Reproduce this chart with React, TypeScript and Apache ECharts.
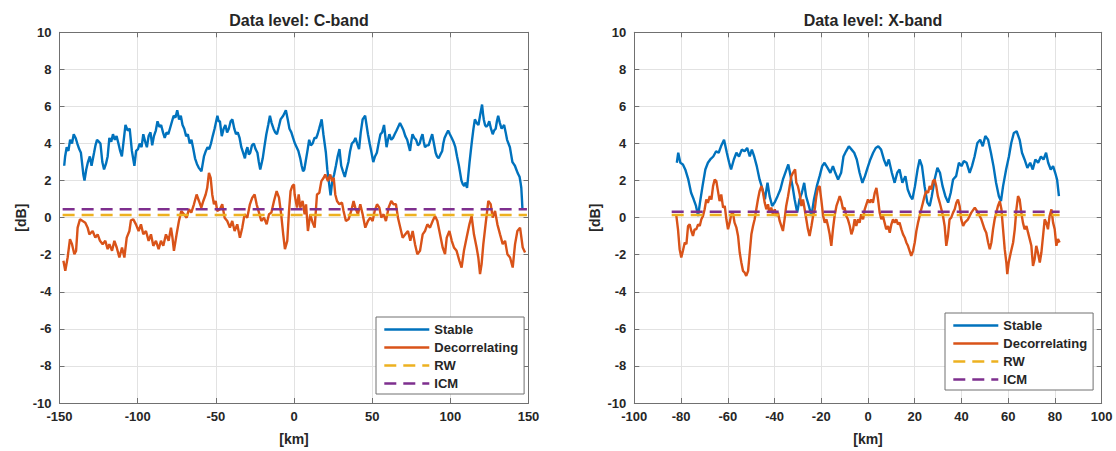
import React, { useEffect, useRef } from "react";
import * as echarts from "echarts";

// ---------- DATA ----------
const seriesNames = ["Stable", "Decorrelating", "RW", "ICM"];
const titles = ["Data level: C-band", "Data level: X-band"];
const xAxisName = "[km]";
const yAxisName = "[dB]";

// C-band: [km, dB]
const cStable: [number, number][] = [
  [-147.0,2.8],[-146.4,3.3],[-145.4,3.8],[-144.3,3.6],[-143.2,4.2],[-142.0,4.0],[-140.9,4.5],[-139.7,4.3],[-138.6,4.0],[-137.4,3.7],[-136.3,3.5],[-135.5,2.9],[-134.7,2.3],[-134.0,2.0],[-132.9,2.6],[-131.8,3.0],[-130.6,3.3],[-129.5,2.8],[-127.9,3.5],[-127.0,3.9],[-126.0,4.2],[-124.9,4.1],[-123.8,4.0],[-122.6,3.0],[-121.5,2.6],[-120.3,2.9],[-119.2,3.3],[-118.1,4.3],[-116.9,4.1],[-115.8,4.5],[-114.6,4.2],[-113.5,4.4],[-112.3,4.0],[-111.2,3.6],[-110.1,3.3],[-108.9,4.2],[-107.8,5.0],[-106.4,4.7],[-105.1,4.8],[-103.7,3.6],[-102.1,2.8],[-101.0,3.6],[-99.8,3.7],[-98.7,4.0],[-97.5,3.8],[-96.4,4.5],[-95.2,4.1],[-94.1,3.8],[-93.0,4.4],[-91.8,4.6],[-90.7,3.9],[-89.6,4.4],[-88.4,4.7],[-87.3,5.2],[-86.1,4.9],[-85.0,5.0],[-83.8,4.6],[-82.7,4.3],[-81.5,4.6],[-80.4,4.5],[-78.7,5.0],[-77.0,5.5],[-75.8,5.4],[-74.7,5.8],[-73.5,5.3],[-72.4,5.5],[-71.3,5.0],[-70.2,4.8],[-69.0,4.4],[-67.9,4.5],[-66.7,4.0],[-65.6,4.2],[-64.4,3.7],[-63.3,3.2],[-62.1,2.9],[-61.0,2.7],[-59.2,2.5],[-58.4,2.9],[-57.6,3.3],[-56.4,3.6],[-55.3,3.8],[-54.2,3.7],[-53.1,4.0],[-52.0,4.4],[-50.8,4.8],[-49.0,5.5],[-48.2,5.2],[-47.4,5.2],[-46.2,4.4],[-45.0,4.8],[-43.9,5.0],[-42.8,4.6],[-41.7,4.8],[-40.5,5.2],[-39.4,5.3],[-38.2,4.8],[-37.1,4.5],[-36.0,4.6],[-34.8,4.3],[-33.7,3.8],[-32.5,3.5],[-31.4,3.2],[-30.6,3.6],[-29.8,3.8],[-28.9,3.4],[-28.0,3.5],[-26.9,3.9],[-25.7,4.0],[-24.6,3.7],[-23.4,3.5],[-22.5,3.0],[-21.6,2.6],[-20.8,2.9],[-20.0,3.2],[-18.8,3.9],[-17.7,4.5],[-16.5,5.0],[-15.4,5.5],[-14.3,5.1],[-13.1,4.8],[-12.0,4.6],[-10.9,4.5],[-9.7,4.9],[-8.6,5.3],[-6.9,5.5],[-5.2,5.8],[-4.0,5.3],[-2.9,4.8],[-1.7,4.6],[-0.6,4.3],[0.6,4.0],[1.7,3.8],[2.8,3.6],[4.0,3.2],[4.9,2.8],[5.8,2.5],[6.6,2.6],[7.4,3.0],[8.6,3.6],[9.7,4.2],[10.8,3.9],[11.9,4.0],[13.1,4.3],[14.2,4.3],[15.1,4.5],[16.1,4.8],[17.7,5.3],[18.8,4.5],[19.6,4.0],[20.4,3.5],[21.3,2.6],[22.2,2.0],[23.4,1.2],[24.5,2.0],[25.6,2.3],[26.8,2.8],[27.9,3.3],[29.1,3.7],[30.2,2.8],[31.3,2.5],[32.5,2.2],[33.6,2.6],[34.8,3.0],[35.9,3.6],[37.0,4.0],[38.2,4.1],[39.3,4.3],[40.4,4.0],[41.6,3.7],[42.7,4.6],[43.9,5.3],[45.5,5.5],[46.4,5.0],[47.3,4.5],[48.4,4.0],[49.6,3.5],[50.7,3.0],[51.8,3.3],[53.0,3.5],[54.1,4.0],[55.3,4.5],[56.4,4.6],[57.6,5.0],[58.4,4.4],[59.2,3.8],[60.1,4.2],[61.0,4.5],[62.2,4.2],[63.3,4.3],[64.4,4.5],[65.6,4.7],[66.7,4.9],[67.8,5.1],[69.0,4.9],[70.1,4.7],[71.2,4.4],[72.4,4.2],[73.3,3.9],[74.2,3.6],[75.0,4.1],[75.8,4.5],[77.0,4.3],[78.1,4.2],[79.3,3.9],[80.4,4.0],[81.3,4.3],[82.2,4.5],[83.0,4.1],[83.8,3.8],[85.0,3.9],[86.1,3.9],[87.2,4.2],[88.4,4.5],[89.5,4.0],[90.6,3.5],[91.5,3.3],[92.5,3.2],[93.6,3.4],[94.8,3.6],[95.5,4.0],[96.3,4.3],[97.4,4.5],[98.6,4.7],[99.7,4.5],[100.9,4.3],[102.0,4.1],[103.2,3.8],[104.3,3.3],[105.5,2.8],[106.3,2.4],[107.1,2.0],[108.0,1.8],[108.9,1.7],[109.8,1.9],[110.7,1.6],[111.5,2.3],[112.3,3.0],[113.1,3.6],[113.9,4.2],[114.8,4.8],[115.7,5.3],[116.9,5.1],[118.0,5.0],[119.2,5.6],[120.3,6.1],[120.9,5.6],[121.4,5.3],[122.2,5.0],[123.0,4.9],[124.0,5.0],[124.9,5.2],[126.0,4.8],[127.1,4.5],[128.0,4.7],[129.0,4.8],[129.8,5.2],[130.6,5.5],[131.7,5.1],[132.8,4.8],[133.6,4.9],[134.4,5.0],[135.4,4.6],[136.3,4.2],[137.2,4.0],[138.1,3.8],[138.9,3.4],[139.7,3.0],[140.5,2.9],[141.3,2.8],[142.2,2.6],[143.1,2.4],[143.7,2.3],[144.3,2.2],[144.9,1.9],[145.4,1.6],[145.8,1.0],[146.1,0.5]
];
const cDecor: [number, number][] = [
  [-147.5,-2.33],[-146.3,-2.87],[-144.8,-2.15],[-143.3,-1.16],[-142.0,-1.43],[-140.5,-1.97],[-139.4,-1.79],[-138.4,-0.54],[-136.9,-0.09],[-135.2,-0.18],[-133.5,-0.27],[-132.0,-0.54],[-130.9,-0.90],[-128.8,-0.72],[-127.1,-1.08],[-125.6,-0.90],[-124.1,-1.25],[-122.4,-1.43],[-120.7,-1.25],[-119.2,-1.70],[-118.1,-1.43],[-116.4,-1.79],[-114.9,-1.25],[-113.4,-1.61],[-111.7,-2.15],[-110.0,-1.61],[-108.5,-2.15],[-107.0,-1.08],[-105.3,-0.72],[-104.3,-0.14],[-102.8,-0.09],[-101.1,-0.36],[-99.4,-0.72],[-97.9,-0.36],[-96.4,-0.90],[-94.7,-0.72],[-93.0,-1.25],[-91.5,-0.90],[-90.0,-1.52],[-88.3,-1.25],[-86.6,-1.70],[-85.1,-1.25],[-83.6,-1.52],[-81.9,-0.90],[-80.2,-1.25],[-78.7,-0.54],[-77.7,-1.1],[-76.8,-1.79],[-75.1,-0.90],[-73.6,-0.18],[-72.1,0.36],[-70.4,0.18],[-68.7,0],[-67.2,0.45],[-65.7,0.27],[-64.0,0.72],[-62.3,1.25],[-60.8,0.90],[-59.3,0.54],[-58.0,0.90],[-56.5,1.25],[-55.5,1.61],[-54.4,2.42],[-53.3,2.15],[-52.3,1.25],[-51.2,0.72],[-50.1,0.90],[-49.1,0.36],[-47.4,0.45],[-45.9,0.72],[-44.4,0],[-42.7,-0.18],[-41.0,-0.54],[-39.5,-0.18],[-38.0,-0.72],[-36.3,-0.36],[-34.6,-1.08],[-33.1,-0.54],[-31.6,0.18],[-29.9,0],[-28.2,0.72],[-26.7,1.08],[-25.2,1.25],[-23.9,0.72],[-22.4,0.27],[-20.9,-0.18],[-19.2,0],[-17.5,-0.36],[-16.0,0.18],[-14.5,0.27],[-12.8,0.90],[-11.1,1.43],[-9.6,1.08],[-8.2,0.18],[-6.9,-0.90],[-5.8,-1.70],[-4.3,-1.25],[-3.2,0.36],[-2.2,1.43],[-1.1,1.70],[0.0,1.79],[0.4,1.25],[1.9,0.54],[3.0,1.25],[4.0,0.54],[5.5,0.90],[6.8,0.18],[7.7,0.72],[8.9,-0.72],[10.4,0.18],[11.9,-0.27],[13.2,-0.54],[14.7,1.25],[16.2,1.34],[17.5,1.97],[19.0,2.15],[20.0,2.33],[21.7,1.97],[23.2,2.33],[24.3,1.97],[25.4,2.15],[26.4,1.25],[27.5,0.90],[29.0,0.72],[30.7,0.81],[31.7,0.36],[33.2,-0.18],[34.9,-0.09],[36.6,0.36],[38.1,0.90],[39.2,0.54],[40.9,0.18],[42.4,0.72],[43.9,0.18],[45.6,-0.54],[47.3,-0.18],[48.8,0],[50.3,-0.18],[51.6,0.36],[53.1,0.72],[54.6,0.54],[55.8,0],[57.3,0.18],[58.8,-0.18],[60.5,0.54],[62.2,0.90],[63.7,0.72],[65.2,0.72],[66.5,0],[68.0,-0.54],[69.5,-1.08],[71.2,-0.90],[72.9,-0.72],[74.4,-1.25],[75.9,-0.72],[77.4,-1.43],[78.9,-1.97],[80.6,-1.79],[82.3,-0.90],[83.8,-0.72],[85.3,-0.36],[87.0,-0.54],[88.7,-0.18],[90.2,0.09],[91.7,-0.18],[93.4,-0.90],[95.1,-1.61],[96.6,-1.97],[97.7,-1.08],[99.4,-0.72],[100.9,-1.25],[102.3,-1.61],[104.0,-1.79],[105.8,-2.33],[107.2,-2.69],[108.7,-1.79],[110.4,-1.08],[112.2,-0.36],[113.6,0.09],[115.1,-0.90],[116.8,-1.61],[117.9,-2.15],[119.0,-3.05],[120.0,-2.51],[121.1,-1.43],[122.8,-0.18],[124.3,0.90],[125.8,0.72],[127.1,0],[128.6,0.36],[130.1,-0.36],[131.8,-0.90],[133.5,-1.43],[135.0,-1.25],[136.5,-1.97],[138.2,-2.15],[139.9,-2.69],[141.4,-1.43],[142.9,-0.72],[144.6,-0.54],[146.3,-1.61],[147.8,-1.88]
];
const cRW = 0.14;
const cICM = 0.45;
const cRefSpan = [-148, 149];

// X-band: [km, dB]
const xStable: [number, number][] = [
  [-81.8,2.96],[-81.2,3.5],[-80.3,2.96],[-79.2,2.87],[-78.2,2.6],[-76.9,2.06],[-75.7,1.34],[-74.6,0.99],[-73.6,0.63],[-72.7,0.09],[-71.9,0.81],[-70.8,1.70],[-69.6,2.6],[-68.5,2.96],[-67.5,3.14],[-66.2,3.3],[-65.0,3.58],[-63.9,3.5],[-62.9,3.85],[-61.6,4.2],[-60.4,3.5],[-59.4,2.96],[-58.6,2.6],[-57.4,3.14],[-56.3,3.5],[-55.2,3.3],[-54.0,3.67],[-52.8,3.58],[-51.7,3.76],[-50.6,3.3],[-49.7,3.67],[-48.7,3.3],[-47.6,2.78],[-46.4,2.06],[-45.1,1.52],[-44.1,0.99],[-43.0,1.88],[-42.1,1.16],[-41.0,0.63],[-40.0,0.81],[-38.7,1.16],[-37.5,1.52],[-36.4,2.06],[-35.4,2.42],[-34.1,2.87],[-33.4,2.42],[-32.3,1.70],[-31.4,0.99],[-30.3,0.27],[-29.3,0.99],[-28.3,1.34],[-27.3,1.88],[-26.5,1.16],[-25.3,0.63],[-24.2,0.09],[-23.1,0.99],[-21.9,1.70],[-20.7,2.24],[-19.6,2.78],[-18.6,2.96],[-17.3,2.69],[-16.1,2.42],[-15.0,2.78],[-14.0,2.42],[-12.8,2.06],[-11.5,2.42],[-10.5,3.3],[-9.4,3.58],[-8.2,3.85],[-7.0,3.67],[-5.9,3.5],[-4.8,3.14],[-3.6,2.42],[-2.4,1.88],[-1.3,2.24],[-0.2,2.69],[1.0,3.14],[2.2,3.5],[3.3,3.76],[4.4,3.85],[5.6,3.67],[6.8,3.14],[7.9,2.78],[8.9,3.14],[10.2,2.42],[11.4,1.88],[12.5,2.42],[13.5,2.6],[14.7,1.88],[16.0,2.24],[17.0,1.52],[18.1,1.16],[19.0,0.99],[20.1,1.70],[21.2,2.6],[22.1,3.14],[23.1,2.78],[24.2,1.70],[25.4,0.81],[26.4,0.63],[27.3,1.16],[28.5,2.06],[29.7,2.69],[30.8,2.42],[31.9,1.70],[33.1,1.16],[34.3,0.81],[35.4,1.34],[36.4,2.06],[37.7,2.24],[38.9,2.96],[40.0,2.78],[41.0,3.05],[42.2,2.96],[43.5,2.42],[44.5,2.78],[45.6,3.3],[46.8,4.03],[48.0,4.2],[49.1,3.85],[50.2,4.4],[51.4,4.2],[52.6,3.5],[53.7,2.78],[54.8,1.88],[56.0,1.16],[56.9,0.9],[57.8,1.70],[59.1,2.6],[60.3,3.3],[61.3,4.03],[62.4,4.57],[63.6,4.66],[64.9,4.2],[65.9,3.5],[67.0,3.14],[68.2,2.69],[69.4,2.96],[70.5,2.6],[71.6,3.14],[72.8,2.96],[74.0,3.3],[75.1,3.14],[76.2,3.5],[77.1,2.96],[78.2,2.6],[79.2,2.78],[80.1,2.42],[80.9,2.06],[81.7,1.16]
];
const xDecor: [number, number][] = [
  [-82.0,0.1],[-81.3,-0.63],[-80.6,-1.70],[-79.9,-2.15],[-79.2,-1.79],[-78.4,-1.34],[-77.7,-1.43],[-77.0,-0.45],[-76.3,-0.36],[-75.6,-0.72],[-74.9,-0.99],[-74.2,-0.63],[-73.5,-0.63],[-72.7,-0.36],[-72.0,-0.45],[-71.3,-0.09],[-70.6,0.09],[-69.9,0.45],[-69.2,0.98],[-68.5,0.80],[-67.7,1.16],[-67.0,0.98],[-66.3,1.70],[-65.6,2.06],[-64.9,1.97],[-64.2,1.43],[-63.5,0.89],[-62.8,1.25],[-62.0,0.54],[-61.3,0.63],[-60.6,-0.09],[-59.9,-0.63],[-59.2,-0.27],[-58.5,0.18],[-57.8,0.27],[-57.1,-0.27],[-56.3,-0.54],[-55.6,-0.99],[-54.9,-1.88],[-54.2,-2.42],[-53.5,-2.87],[-52.8,-2.96],[-52.1,-3.14],[-51.3,-2.87],[-50.6,-1.88],[-49.9,-0.90],[-49.2,-0.45],[-48.5,-0.09],[-47.8,0.45],[-47.1,0.98],[-46.4,1.43],[-45.6,1.70],[-44.9,1.34],[-44.2,0.80],[-43.5,0.45],[-42.8,0.72],[-42.1,0.27],[-41.4,0.54],[-40.7,0.18],[-39.9,0.45],[-39.2,0.09],[-38.5,0.27],[-37.8,-0.18],[-37.1,-0.45],[-36.4,-0.72],[-35.7,-0.09],[-35.0,0.63],[-34.2,1.16],[-33.5,1.70],[-32.8,2.24],[-32.1,2.42],[-31.2,2.6],[-30.7,1.9],[-30.0,1.70],[-29.2,1.25],[-28.5,0.63],[-27.8,0.98],[-27.1,0.45],[-26.4,-0.09],[-25.7,-0.63],[-25.0,-0.99],[-24.2,-0.45],[-23.5,0.09],[-22.8,0.45],[-22.1,1.16],[-21.4,1.61],[-20.7,1.70],[-20.0,0.98],[-19.2,0.09],[-18.5,-0.27],[-17.8,-0.09],[-17.1,-0.45],[-16.4,-0.90],[-15.7,-1.52],[-15.0,-0.63],[-14.3,0.09],[-13.5,0.63],[-12.8,0.89],[-12.1,1.16],[-11.4,0.89],[-10.7,0.45],[-10.0,0.54],[-9.3,0.09],[-8.6,-0.09],[-7.8,-0.45],[-7.1,-0.90],[-6.4,-0.63],[-5.7,-0.09],[-5.0,-0.45],[-4.3,-0.09],[-3.6,-0.27],[-2.9,0.18],[-2.1,-0.09],[-1.4,0.45],[-0.7,0.72],[0.0,0.98],[0.7,0.80],[1.4,0.98],[2.1,0.80],[2.9,1.34],[3.6,1.61],[4.3,0.98],[5.0,0.27],[5.7,-0.09],[6.4,0.09],[7.1,-0.27],[7.8,-0.63],[8.6,-0.45],[9.3,-0.81],[10.0,-0.36],[10.7,-0.09],[11.4,-0.27],[12.1,-0.09],[12.8,-0.36],[13.5,-0.27],[14.3,-0.63],[15.0,-0.90],[15.7,-1.07],[16.4,-1.34],[17.1,-1.52],[17.8,-1.79],[18.5,-2.06],[19.3,-1.79],[20.0,-1.34],[20.7,-0.72],[21.4,-0.27],[22.1,0.09],[22.8,0.45],[23.5,0.80],[24.2,1.16],[24.9,1.43],[25.7,1.34],[26.4,1.70],[27.1,1.52],[27.8,1.97],[28.5,2.06],[29.2,1.70],[29.9,1.16],[30.7,0.80],[31.4,0.45],[32.1,0.09],[32.8,-0.45],[33.5,-1.52],[34.2,-0.99],[34.9,-0.09],[35.6,0],[36.4,0.27],[37.1,0.45],[37.8,0.80],[38.5,0.98],[39.2,0.63],[39.9,-0.09],[40.7,-0.45],[41.4,-0.27],[42.8,-0.09],[44.2,0.27],[45.7,0.54],[47.1,0.27],[48.5,-0.09],[49.9,-0.63],[50.6,-0.81],[51.4,-1.34],[52.1,-1.70],[52.8,-1.34],[53.5,-0.63],[54.2,-0.09],[54.9,0.27],[55.6,0.63],[56.4,0.89],[57.1,0.45],[57.8,-0.63],[58.5,-1.70],[59.2,-2.42],[59.6,-3.05],[60.2,-2.42],[61.1,-1.88],[62.1,-1.34],[62.8,-0.63],[63.5,0.45],[64.2,1.16],[64.9,0.98],[65.6,0.27],[66.3,-0.27],[67.0,-0.63],[67.8,-0.45],[68.5,-0.81],[69.2,-1.16],[69.9,-1.52],[70.6,-2.6],[71.3,-2.24],[72.0,-1.52],[72.7,-1.88],[73.5,-2.42],[74.2,-1.88],[74.9,-0.99],[75.6,-0.09],[76.3,-0.27],[77.0,-0.63],[77.7,0.09],[78.5,0.45],[79.2,-0.27],[79.9,-0.63],[80.6,-1.52],[81.3,-1.16],[82.0,-1.34]
];
const xRW = 0.14;
const xICM = 0.32;
const xRefSpan = [-84, 82];

const cXTicks = { min: -150, max: 150, interval: 50 };
const xXTicks = { min: -100, max: 100, interval: 20 };
const yTicks = { min: -10, max: 10, interval: 2 };

// ---------- STYLE ----------
const FONT = "'Liberation Sans', Arial, Helvetica, sans-serif";
const TXT = "#262626";
const FRAME = "#707070";
const GRIDC = "#e2e2e2";
const COLORS = ["#0072BD", "#D95319", "#EDB120", "#7E2F8E"];

function buildOption() {
  const grids = [
    { left: 59.5, top: 32.3, width: 469, height: 372 },
    { left: 634.3, top: 32.3, width: 467.4, height: 372 },
  ];
  const xTicks = [cXTicks, xXTicks];
  const xAxes: any[] = [];
  const yAxes: any[] = [];
  grids.forEach((_, g) => {
    const base = {
      type: "value",
      gridIndex: g,
      axisLine: { show: true, onZero: false, lineStyle: { color: FRAME, width: 1 } },
      axisTick: { show: true, inside: true, length: 5, lineStyle: { color: FRAME } },
    };
    xAxes.push({
      ...base,
      ...xTicks[g],
      position: "bottom",
      axisLabel: { color: TXT, fontFamily: FONT, fontWeight: "bold", fontSize: 13, margin: 7 },
      splitLine: { show: true, lineStyle: { color: GRIDC, width: 1 } },
      name: xAxisName,
      nameLocation: "middle",
      nameGap: 29,
      nameTextStyle: { color: TXT, fontFamily: FONT, fontWeight: "bold", fontSize: 14 },
    });
    xAxes.push({
      ...base,
      ...xTicks[g],
      position: "top",
      axisLabel: { show: false },
      splitLine: { show: false },
    });
    yAxes.push({
      ...base,
      ...yTicks,
      position: "left",
      axisLabel: { color: TXT, fontFamily: FONT, fontWeight: "bold", fontSize: 13, margin: 8 },
      splitLine: { show: true, lineStyle: { color: GRIDC, width: 1 } },
      name: yAxisName,
      nameLocation: "middle",
      nameGap: 32,
      nameTextStyle: { color: TXT, fontFamily: FONT, fontWeight: "bold", fontSize: 14 },
    });
    yAxes.push({
      ...base,
      ...yTicks,
      position: "right",
      axisLabel: { show: false },
      splitLine: { show: false },
    });
  });

  const panels = [
    { stable: cStable, decor: cDecor, rw: cRW, icm: cICM, span: cRefSpan },
    { stable: xStable, decor: xDecor, rw: xRW, icm: xICM, span: xRefSpan },
  ];
  const series: any[] = [];
  panels.forEach((p, g) => {
    const common = { type: "line", xAxisIndex: g * 2, yAxisIndex: g * 2, symbol: "none", showSymbol: false, silent: true };
    series.push({ ...common, name: seriesNames[0], data: p.stable, lineStyle: { color: COLORS[0], width: 2.4 }, itemStyle: { color: COLORS[0] } });
    series.push({ ...common, name: seriesNames[1], data: p.decor, lineStyle: { color: COLORS[1], width: 2.4 }, itemStyle: { color: COLORS[1] } });
    series.push({ ...common, name: seriesNames[2], data: p.span.map((x) => [x, p.rw]), lineStyle: { color: COLORS[2], width: 2.6, type: [12, 7] }, itemStyle: { color: COLORS[2] } });
    series.push({ ...common, name: seriesNames[3], data: p.span.map((x) => [x, p.icm]), lineStyle: { color: COLORS[3], width: 2.6, type: [12, 7] }, itemStyle: { color: COLORS[3] } });
  });

  const legendBase = {
    orient: "vertical",
    data: seriesNames,
    itemWidth: 45,
    itemHeight: 14,
    itemGap: 5,
    itemTextGap: 4,
    padding: [6, 6, 4, 7],
    backgroundColor: "#ffffff",
    borderColor: FRAME,
    borderWidth: 1,
    borderRadius: 0,
    selectedMode: false,
    itemStyle: { opacity: 0, borderWidth: 0 },
    lineStyle: { width: 2.6 },
    textStyle: { color: TXT, fontFamily: FONT, fontWeight: "bold", fontSize: 13 },
  };

  return {
    animation: false,
    backgroundColor: "#ffffff",
    title: [
      { text: titles[0], left: 294, top: 7, textAlign: "center", textStyle: { color: TXT, fontFamily: FONT, fontWeight: "bold", fontSize: 16 } },
      { text: titles[1], left: 868, top: 7, textAlign: "center", textStyle: { color: TXT, fontFamily: FONT, fontWeight: "bold", fontSize: 16 } },
    ],
    legend: [
      { ...legendBase, left: 376, top: 317 },
      { ...legendBase, left: 945, top: 313 },
    ],
    grid: grids,
    xAxis: xAxes,
    yAxis: yAxes,
    series,
  };
}

export default function App() {
  const ref = useRef<HTMLDivElement>(null);
  useEffect(() => {
    if (!ref.current) return;
    const chart = echarts.init(ref.current, undefined, { renderer: "svg" });
    chart.setOption(buildOption() as any);
    return () => chart.dispose();
  }, []);
  return (
    <div
      ref={ref}
      style={{ position: "absolute", left: 0, top: 0, width: 1116, height: 451, background: "#fff" }}
    />
  );
}
